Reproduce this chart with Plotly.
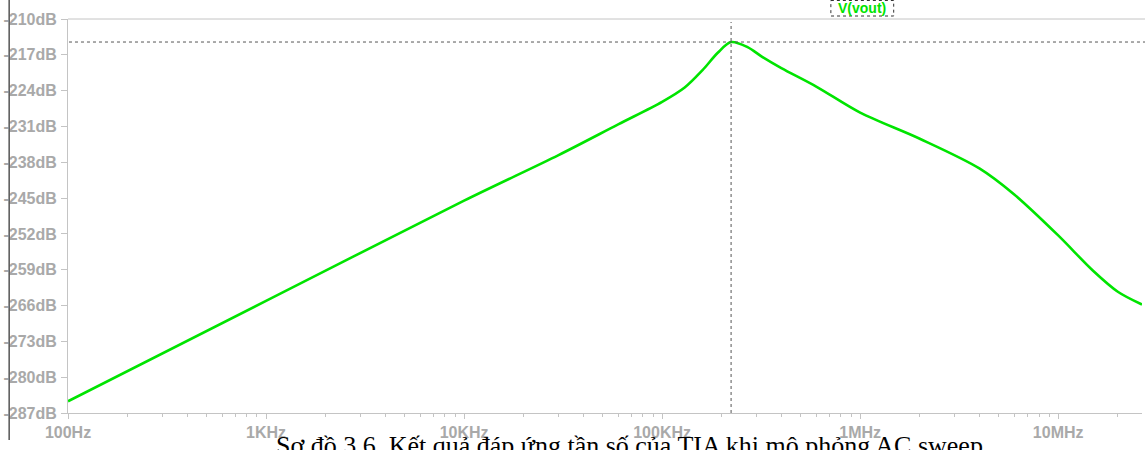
import plotly.graph_objects as go

# AC sweep result: output magnitude of V(vout) versus frequency
freq_hz = [100, 1e3, 1e4, 3e4, 6e4, 1e5, 1.3e5, 1.6e5, 1.91e5, 2.23e5, 2.7e5,
           3.2e5, 4e5, 6e5, 1e6, 2e6, 4e6, 6e6, 1e7, 1.5e7, 2e7, 2.65e7]
vout_db = [-284.7, -265.1, -245.5, -236.6, -230.6, -226.2, -223.4, -220.0,
           -216.6, -214.5, -215.5, -217.4, -219.6, -223.2, -228.3, -233.4,
           -239.2, -244.3, -252.3, -259.2, -263.3, -265.8]

y_ticks = list(range(-287, -209, 7))
y_tick_text = [f"{v}dB" for v in y_ticks]
x_tick_vals = [1e2, 1e3, 1e4, 1e5, 1e6, 1e7]
x_tick_text = ["100Hz", "1KHz", "10KHz", "100KHz", "1MHz", "10MHz"]
x_minor_vals = [m * d for d in [1e2, 1e3, 1e4, 1e5, 1e6, 1e7] for m in range(2, 10)]

caption = "Sơ đồ 3.6. Kết quả đáp ứng tần số của TIA khi mô phỏng AC sweep"
trace_name = "V(vout)"

W, H = 1145, 450
ML, MR, MT, MB = 65, 3, 19, 37
GREEN = "#00e400"
AXIS_GRAY = "#c4c4c4"
LABEL_GRAY = "#a9a9a9"


def px(x):
    return (x - ML) / (W - ML - MR)


def py(y):
    return (H - MB - y) / (H - MT - MB)


peak_i = max(range(len(vout_db)), key=lambda i: vout_db[i])
peak_f, peak_db = freq_hz[peak_i], vout_db[peak_i]

fig = go.Figure()
fig.add_trace(go.Scatter(
    x=freq_hz, y=vout_db, mode="lines", name=trace_name,
    line=dict(color=GREEN, width=2.6, shape="spline", smoothing=0.9),
    hoverinfo="skip",
))

label_font = dict(family="Liberation Sans, Arial", size=16, color=LABEL_GRAY, weight="bold")

fig.update_layout(
    width=W, height=H,
    margin=dict(l=ML, r=MR, t=MT, b=MB),
    paper_bgcolor="white", plot_bgcolor="white",
    showlegend=False,
    xaxis=dict(
        type="log", range=[2, 7.4232],
        tickmode="array", tickvals=x_tick_vals, ticktext=x_tick_text,
        ticks="outside", ticklen=5, tickcolor=AXIS_GRAY,
        showgrid=False, zeroline=False,
        showline=True, linecolor=AXIS_GRAY, linewidth=1,
        tickfont=label_font, ticklabelstandoff=0,
        minor=dict(tickmode="array", tickvals=x_minor_vals, ticks="outside",
                   ticklen=3, tickcolor=AXIS_GRAY, showgrid=False),
    ),
    yaxis=dict(
        range=[-287, -210],
        tickmode="array", tickvals=y_ticks, ticktext=y_tick_text,
        ticks="outside", ticklen=6, tickcolor=AXIS_GRAY,
        showgrid=False, zeroline=False,
        showline=True, linecolor=AXIS_GRAY, linewidth=1,
        tickfont=label_font, ticklabelstandoff=1,
    ),
)

# top border of the plotting area
fig.add_shape(type="line", xref="paper", yref="paper",
              x0=0, x1=px(W), y0=1, y1=1,
              line=dict(color=AXIS_GRAY, width=1))

# cursor cross-hair on the peak
fig.add_shape(type="line", xref="x", yref="paper",
              x0=peak_f, x1=peak_f, y0=0, y1=py(22),
              line=dict(color="#555555", width=1, dash="dot"))
fig.add_shape(type="line", xref="paper", yref="y",
              x0=px(66), x1=px(W), y0=peak_db, y1=peak_db,
              line=dict(color="#555555", width=1, dash="dot"))

# left frame line of the window
fig.add_shape(type="line", xref="paper", yref="paper",
              x0=px(6), x1=px(6), y0=py(0), y1=py(440),
              line=dict(color="#555555", width=1.5))

# trace label with dotted box
fig.add_annotation(
    xref="paper", yref="paper", x=px(861.5), y=py(8),
    text=f"<b>{trace_name}</b>", showarrow=False,
    font=dict(family="Liberation Sans, Arial", size=14, color=GREEN),
    xanchor="center", yanchor="middle",
)
fig.add_shape(type="rect", xref="paper", yref="paper",
              x0=px(830), x1=px(893), y0=py(0.5), y1=py(16),
              line=dict(color="#333333", width=1, dash="dot"))

# figure caption
fig.add_annotation(
    xref="paper", yref="paper", x=px(628), y=py(429),
    text=caption, showarrow=False,
    font=dict(family="Liberation Serif, Times New Roman", size=26, color="black"),
    xanchor="center", yanchor="top",
)

fig.write_html("out.html")
